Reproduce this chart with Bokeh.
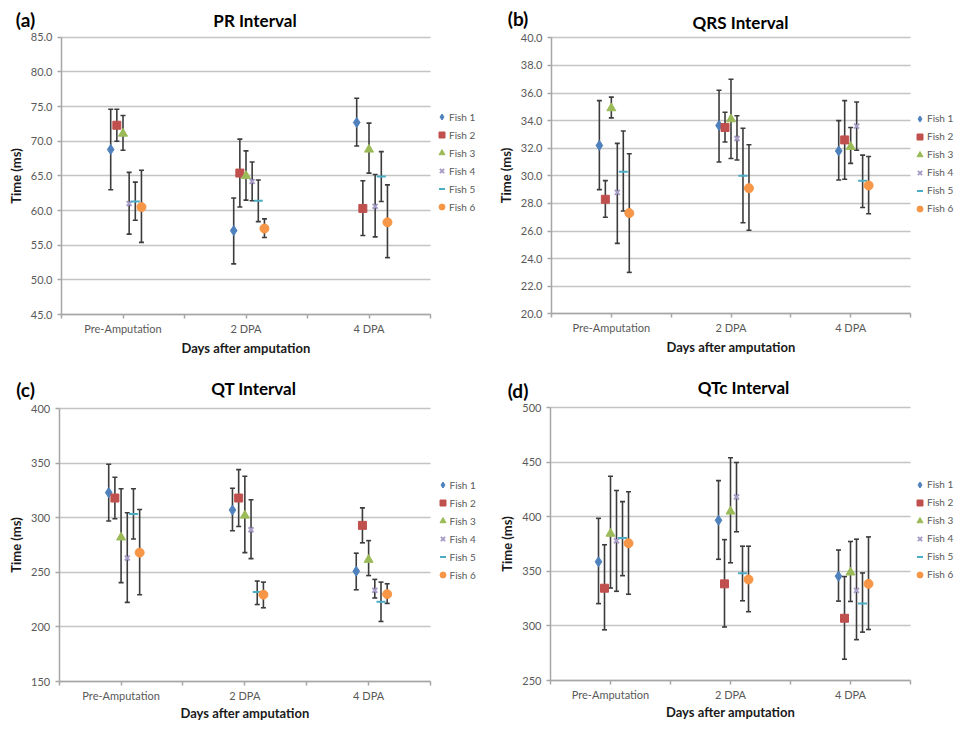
import numpy as np
from bokeh.plotting import figure
from bokeh.models import (ColumnDataSource, Whisker, TeeHead, Legend, LegendItem, Label,
                          FixedTicker, NumeralTickFormatter, Range1d)
from bokeh.layouts import column, row
from bokeh.embed import file_html
from bokeh.resources import INLINE

# ---------------- data ----------------
categories = ["Pre-Amputation", "2 DPA", "4 DPA"]
fish_names = ["Fish 1", "Fish 2", "Fish 3", "Fish 4", "Fish 5", "Fish 6"]

# PR interval (ms): rows = fish, cols = categories
pr_mean = [[68.8, 57.1, 72.7], [72.3, 65.4, 60.3], [71.1, 65.0, 68.8],
           [61.0, 64.2, 60.6], [61.3, 61.4, 64.9], [60.5, 57.4, 58.3]]
pr_upper = [[74.6, 61.8, 76.2], [74.6, 70.3, 64.3], [73.7, 68.6, 72.6],
            [65.5, 67.0, 65.2], [64.1, 64.4, 68.5], [65.8, 58.8, 63.7]]
pr_lower = [[63.0, 52.3, 69.3], [70.0, 60.5, 56.4], [68.7, 61.5, 65.4],
            [56.6, 61.4, 56.2], [58.6, 58.4, 61.3], [55.4, 56.1, 53.2]]

# QRS interval (ms)
qrs_mean = [[32.2, 33.65, 31.8], [28.3, 33.5, 32.6], [34.9, 34.1, 32.1],
            [28.8, 32.7, 33.6], [30.3, 30.0, 29.65], [27.3, 29.1, 29.3]]
qrs_upper = [[35.45, 36.2, 34.0], [29.65, 34.6, 35.45], [35.7, 37.0, 33.5],
             [32.35, 34.35, 35.35], [33.25, 33.45, 31.5], [31.6, 32.25, 31.4]]
qrs_lower = [[29.0, 31.0, 29.7], [27.0, 32.45, 29.75], [34.2, 31.25, 30.9],
             [25.1, 31.15, 31.85], [27.45, 26.6, 27.7], [23.0, 26.05, 27.25]]

# QT interval (ms)
qt_mean = [[323, 307, 251], [318, 318, 293], [282, 302, 261.5],
           [263, 289, 233.5], [303.5, 232, 223], [268, 229.5, 230]]
qt_upper = [[349, 327, 267.5], [337, 344, 309], [326.5, 338, 279],
            [304.5, 316.5, 243.5], [326.5, 242, 241], [307.5, 241, 239.5]]
qt_lower = [[297, 288, 234], [299, 292, 277], [240.5, 268, 247],
            [222.5, 262.5, 226.5], [280.5, 220.5, 205], [229.5, 217.5, 221.5]]

# QTc interval (ms)
qtc_mean = [[358.7, 396.7, 345.5], [334.5, 338.5, 307], [384.5, 404.8, 349],
            [378, 418, 332.5], [380.5, 348.2, 320.5], [375.7, 342.5, 338.5]]
qtc_upper = [[398.5, 433, 369.5], [374.3, 379, 345.2], [437, 454, 377.3],
             [424, 449.7, 379.4], [413.8, 373, 348.5], [422.8, 373, 381.5]]
qtc_lower = [[320.4, 361, 322.7], [296.4, 299, 269.5], [334.7, 357.8, 322.4],
             [331.7, 386.2, 287.4], [346, 323, 294.3], [329, 313, 296.7]]

# ---------------- style ----------------
FONT = "Lato"
COLORS = ["#4F81BD", "#C0504D", "#9BBB59", "#A89CC8", "#4BACC6", "#F79646"]
MARKERS = ["diamond", "square", "triangle", "x", "dash", "circle"]
SIZES = [10, 8, 9, 7, 9, 9]
GRID = "#c4c4c4"
AXIS = "#a6a6a6"
ERR = "#3c3c3c"


def make_panel(letter, title, mean, upper, lower, ymin, ymax, ystep, fmt,
               origin, W, H, box, letter_xy, title_xy, leg_xy, xlab_standoff):
    """origin = position of the canvas; box, letter_xy, title_xy, leg_xy in layout px."""
    ox, oy = origin
    bl, br, bt, bb = (box[0] - ox, box[1] - ox, box[2] - oy, box[3] - oy)
    xppu = (br - bl) / 3.0
    yppu = (bb - bt) / float(ymax - ymin)
    xr = Range1d(0.5 - bl / xppu, 3.5 + (W - br) / xppu)
    yr = Range1d(ymin - (H - bb) / yppu, ymax + bt / yppu)
    p = figure(width=W, height=H, x_range=xr, y_range=yr,
               output_backend="svg", toolbar_location=None,
               min_border_left=0, min_border_right=0,
               min_border_top=0, min_border_bottom=0)
    p.title.visible = False
    p.outline_line_color = None
    p.border_fill_color = "white"
    p.background_fill_color = "white"
    p.xgrid.visible = False
    p.ygrid.grid_line_color = GRID
    p.ygrid.grid_line_width = 1.5
    p.ygrid.cross_bounds = (0.5, 3.5)

    yt = list(np.arange(ymin, ymax + ystep / 2, ystep))
    p.yaxis.ticker = FixedTicker(ticks=yt)
    p.yaxis.formatter = NumeralTickFormatter(format=fmt)
    p.yaxis.fixed_location = 0.5
    p.yaxis.bounds = (ymin, ymax)
    p.xaxis.ticker = FixedTicker(ticks=[0.5, 1, 1.5, 2, 2.5, 3, 3.5])
    p.xaxis.major_label_overrides = {0.5: "", 1: categories[0], 1.5: "", 2: categories[1],
                                     2.5: "", 3: categories[2], 3.5: ""}
    p.xaxis.fixed_location = ymin
    p.xaxis.bounds = (0.5, 3.5)
    for ax in (p.xaxis[0], p.yaxis[0]):
        ax.axis_line_color = AXIS
        ax.axis_line_width = 1.5
        ax.major_tick_line_color = AXIS
        ax.major_tick_line_width = 1.5
        ax.major_tick_out = 4
        ax.major_tick_in = 0
        ax.minor_tick_line_color = None
        ax.major_label_text_font = FONT
        ax.major_label_text_font_size = "11px"
        ax.major_label_text_color = "#595959"
        ax.axis_label_text_font = FONT
        ax.axis_label_text_font_size = "13px"
        ax.axis_label_text_font_style = "bold"
        ax.axis_label_text_color = "#1a1a1a"
    p.xaxis.axis_label = "Days after amputation"
    p.xaxis.major_label_standoff = 3
    p.xaxis.axis_label_standoff = xlab_standoff
    p.yaxis.axis_label = "Time (ms)"
    p.yaxis.major_label_standoff = 5
    p.yaxis.axis_label_standoff = 4

    items = []
    for k in range(6):
        xs = [c + 1 + (k - 2) * 0.05 for c in range(3)]
        src = ColumnDataSource(dict(x=xs, y=mean[k], upper=upper[k], lower=lower[k]))
        w = Whisker(source=src, base="x", upper="upper", lower="lower", dimension="height",
                    line_color=ERR, line_width=1.6,
                    upper_head=TeeHead(size=5, line_color=ERR, line_width=1.6),
                    lower_head=TeeHead(size=5, line_color=ERR, line_width=1.6))
        p.add_layout(w)
        lw = 2 if MARKERS[k] in ("x", "dash") else 1
        r = p.scatter("x", "y", source=src, marker=MARKERS[k], size=SIZES[k],
                      fill_color=COLORS[k], line_color=COLORS[k], line_width=lw)
        items.append(LegendItem(label=fish_names[k], renderers=[r]))

    # legend: leg_xy = (left of glyph column, bottom of last row)
    leg = Legend(items=items, location=(leg_xy[0] - ox, oy + H - leg_xy[1]),
                 orientation="vertical",
                 border_line_color=None, background_fill_alpha=0,
                 padding=0, margin=0, spacing=3, glyph_width=15, glyph_height=15,
                 label_height=12, label_standoff=0,
                 label_text_font=FONT, label_text_font_size="10px",
                 label_text_color="#595959")
    p.add_layout(leg)

    p.add_layout(Label(x=letter_xy[0] - ox, y=oy + H - letter_xy[1],
                       x_units="screen", y_units="screen",
                       text=letter, text_font=FONT, text_font_size="19px",
                       text_font_style="bold", text_color="black",
                       text_align="center", text_baseline="middle"))
    p.add_layout(Label(x=title_xy[0] - ox, y=oy + H - title_xy[1],
                       x_units="screen", y_units="screen",
                       text=title, text_font=FONT, text_font_size="17px",
                       text_font_style="bold", text_color="black",
                       text_align="center", text_baseline="middle"))
    return p


W1, W2 = 480, 475
H1, H2 = 362, 359

pa = make_panel("(a)", "PR Interval", pr_mean, pr_upper, pr_lower, 45, 85, 5, "0.0",
                (0, 0), W1, H1, (61, 430, 36.7, 314), (25, 19), (254.5, 20),
                (434, 214.2), 2)
pb = make_panel("(b)", "QRS Interval", qrs_mean, qrs_upper, qrs_lower, 20, 40, 2, "0.0",
                (W1, 0), W2, H1, (551, 910, 37.3, 313.3), (517.5, 17.5), (740, 21.7),
                (912, 215.5), 2)
pc = make_panel("(c)", "QT Interval", qt_mean, qt_upper, qt_lower, 150, 400, 50, "0",
                (0, H1), W1, H2, (58.7, 430, 408, 681), (25, 389), (253.3, 388),
                (434.5, 582), 0)
pd_ = make_panel("(d)", "QTc Interval", qtc_mean, qtc_upper, qtc_lower, 250, 500, 50, "0",
                 (W1, H1), W2, H2, (550, 910, 407, 680), (517.5, 390), (743, 386.5),
                 (912, 581.5), 0)

layout = column(row(pa, pb), row(pc, pd_))
open("out.html", "w").write(file_html(layout, INLINE))
